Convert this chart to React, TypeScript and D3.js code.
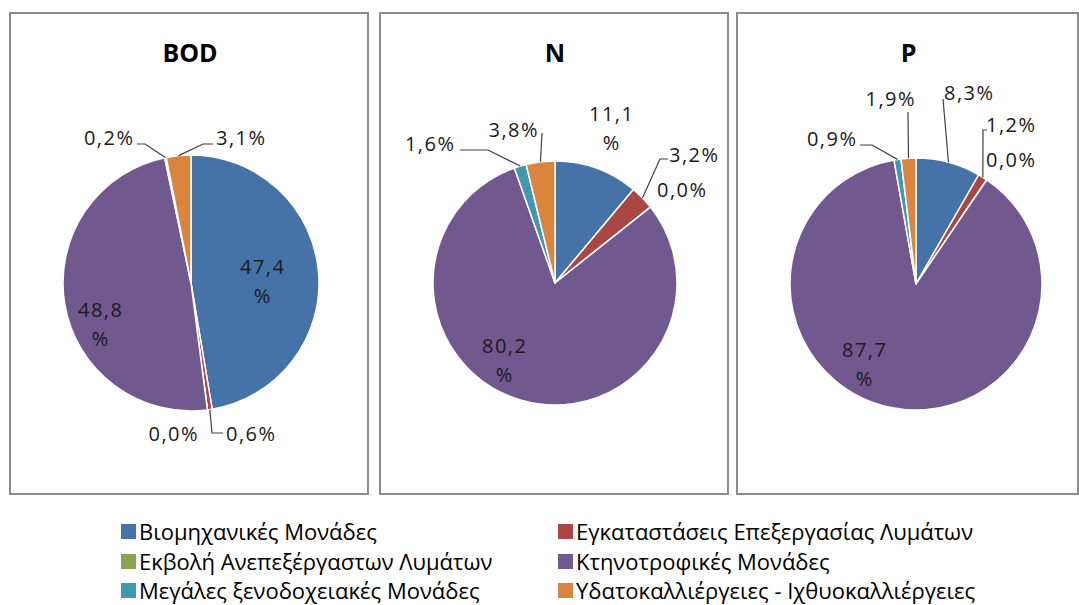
import React from "react";
import * as d3 from "d3";

const categories = [
  "Βιομηχανικές Μονάδες",
  "Εγκαταστάσεις Επεξεργασίας Λυμάτων",
  "Εκβολή Ανεπεξέργαστων Λυμάτων",
  "Κτηνοτροφικές Μονάδες",
  "Μεγάλες ξενοδοχειακές Μονάδες",
  "Υδατοκαλλιέργειες - Ιχθυοκαλλιέργειες",
];
const colors = ["#4572A7", "#AA4643", "#89A54E", "#71588F", "#4198AF", "#DB843D"];
const panelTitles = ["BOD", "N", "P"];
const bodValues = [47.4, 0.6, 0.0, 48.8, 0.2, 3.1];
const nValues = [11.1, 3.2, 0.0, 80.2, 1.6, 3.8];
const pValues = [8.3, 1.2, 0.0, 87.7, 0.9, 1.9];
const seriesValues = [bodValues, nValues, pValues];

type Pt = [number, number];
type LabelLayout = {
  x: number;
  y: number;
  anchor: "start" | "middle" | "end";
  wrap?: boolean;
  leader?: Pt[]; // points from text side towards the slice
};
type PanelLayout = {
  box: [number, number, number, number];
  cx: number;
  cy: number;
  r: number;
  labels: LabelLayout[];
};

const layouts: PanelLayout[] = [
  {
    box: [10, 13, 368, 494],
    cx: 191,
    cy: 283,
    r: 128,
    labels: [
      { x: 262, y: 274, anchor: "middle", wrap: true },
      { x: 226, y: 441, anchor: "start", leader: [[223, 433], [212, 433]] },
      { x: 173, y: 441, anchor: "middle" },
      { x: 100, y: 317, anchor: "middle", wrap: true },
      { x: 133, y: 145, anchor: "end", leader: [[137, 144], [145, 144]] },
      { x: 216, y: 145, anchor: "start", leader: [[213, 144], [203, 144]] },
    ],
  },
  {
    box: [380, 13, 728, 494],
    cx: 555,
    cy: 283,
    r: 122,
    labels: [
      { x: 611, y: 121, anchor: "middle", wrap: true },
      { x: 669, y: 162, anchor: "start", leader: [[668, 159], [660, 159]] },
      { x: 657, y: 197, anchor: "start" },
      { x: 504, y: 353, anchor: "middle", wrap: true },
      { x: 454, y: 151, anchor: "end", leader: [[460, 150], [488, 150]] },
      { x: 513, y: 137, anchor: "middle", leader: [[542, 133]] },
    ],
  },
  {
    box: [737, 13, 1078, 494],
    cx: 916,
    cy: 284,
    r: 126,
    labels: [
      { x: 944, y: 100, anchor: "start", leader: [[943, 99]] },
      { x: 986, y: 132, anchor: "start", leader: [[987, 130], [983, 130]] },
      { x: 986, y: 167, anchor: "start" },
      { x: 864, y: 357, anchor: "middle", wrap: true },
      { x: 856, y: 146, anchor: "end", leader: [[860, 145], [872, 145]] },
      { x: 890, y: 106, anchor: "middle", leader: [[908, 112]] },
    ],
  },
];

const legendCols = [121, 558];
const legendRows = [540, 570, 599];

const fmt = (v: number) => v.toFixed(1).replace(".", ",");
const labelFont = "'Open Sans', 'Noto Sans', sans-serif";

function Panel({ values, title, layout }: { values: number[]; title: string; layout: PanelLayout }) {
  const pie = d3
    .pie<number>()
    .sort(null)
    .value((d) => d)
    .startAngle(0)
    .endAngle(2 * Math.PI);
  const arcs = pie(values);
  const arc = d3.arc<d3.PieArcDatum<number>>().innerRadius(0).outerRadius(layout.r);
  const edge = d3.arc<d3.PieArcDatum<number>>().innerRadius(layout.r).outerRadius(layout.r);
  const [x0, y0, x1, y1] = layout.box;
  const line = d3.line();
  return (
    <g>
      <rect x={x0} y={y0} width={x1 - x0} height={y1 - y0} fill="#fff" stroke="#8c8c8c" strokeWidth={2} />
      <text
        x={(x0 + x1) / 2 + 1}
        y={62}
        textAnchor="middle"
        fontFamily={labelFont}
        fontWeight="bold"
        fontSize={25}
        fill="#000"
      >
        {title}
      </text>
      <g transform={`translate(${layout.cx},${layout.cy})`}>
        {arcs.map((a, i) => (
          <path key={i} d={arc(a) || ""} fill={colors[i]} stroke="#fff" strokeWidth={1.5} strokeLinejoin="round" />
        ))}
      </g>
      {arcs.map((a, i) => {
        const L = layout.labels[i];
        const c = edge.centroid(a);
        const anchorPt: Pt = [layout.cx + c[0], layout.cy + c[1]];
        const txt = fmt(a.data);
        const shift = L.anchor === "end" ? 1.5 : L.anchor === "middle" ? 0.75 : 0;
        return (
          <g key={i}>
            {L.leader && (
              <path d={line([...L.leader, anchorPt]) || ""} fill="none" stroke="#404040" strokeWidth={1.2} />
            )}
            {L.wrap ? (
              <text x={L.x + shift} y={L.y} textAnchor={L.anchor} fontFamily={labelFont} fontSize={20} letterSpacing={1.5} fill="#1a1a1a">
                <tspan x={L.x + shift}>{txt}</tspan>
                <tspan x={L.x + shift} dy={29}>%</tspan>
              </text>
            ) : (
              <text x={L.x + shift} y={L.y} textAnchor={L.anchor} fontFamily={labelFont} fontSize={20} letterSpacing={1.5} fill="#1a1a1a">
                {txt + "%"}
              </text>
            )}
          </g>
        );
      })}
    </g>
  );
}

export default function App() {
  return (
    <svg
      width={1079}
      height={605}
      viewBox="0 0 1079 605"
      style={{ position: "absolute", left: 0, top: 0, background: "#fff" }}
    >
      <rect x={0} y={0} width={1079} height={605} fill="#fff" />
      {panelTitles.map((t, i) => (
        <Panel key={t} title={t} values={seriesValues[i]} layout={layouts[i]} />
      ))}
      {categories.map((c, i) => {
        const col = i % 2;
        const row = Math.floor(i / 2);
        const x = legendCols[col];
        const y = legendRows[row];
        return (
          <g key={c}>
            <rect x={x} y={y - 16} width={15} height={15} fill={colors[i]} />
            <text x={x + 18} y={y} fontFamily={labelFont} fontSize={22} fill="#000">
              {c}
            </text>
          </g>
        );
      })}
    </svg>
  );
}
